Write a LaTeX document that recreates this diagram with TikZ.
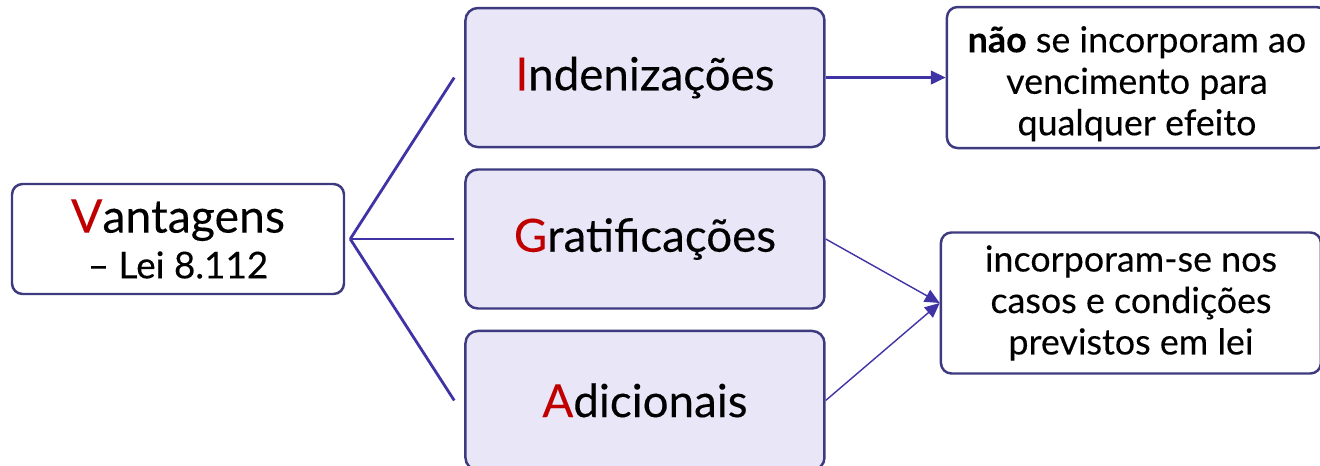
\documentclass[tikz,border=0pt]{standalone}
\usepackage{fontspec}
\setmainfont{Lato}[FakeBold=0.2]
\usetikzlibrary{arrows.meta,positioning}
\definecolor{cLine}{HTML}{4033A6}
\definecolor{cEdge}{HTML}{3D3A80}
\definecolor{cFill}{HTML}{E8E6F7}
\definecolor{cRed}{HTML}{C00000}
\tikzset{
  rootbox/.style={rounded corners=3pt,draw=cEdge,line width=0.7pt,fill=white,
              minimum width=3.32cm,minimum height=1.10cm,inner sep=0pt,align=center},
  catbox/.style={rounded corners=3.5pt,draw=cEdge,line width=0.7pt,fill=cFill,
              minimum width=3.59cm,minimum height=1.39cm,inner sep=0pt,
              font=\fontsize{13}{16}\selectfont},
  notebox/.style={rounded corners=3pt,draw=cEdge,line width=0.7pt,fill=white,
              minimum width=3.80cm,minimum height=1.41cm,inner sep=0pt,align=center,
              font=\fontsize{10.2}{11.8}\selectfont},
  fan/.style={cLine,line width=0.8pt},
  leadarrow/.style={-{Triangle[length=4.2pt,width=3.8pt]},cLine,line width=0.8pt},
  thinarrow/.style={-{Triangle[length=4.2pt,width=3.8pt]},cLine,line width=0.4pt},
}
\newcommand{\ini}[1]{\textcolor{cRed}{#1}}

\begin{document}
\begin{tikzpicture}[node distance=2mm]
  \useasboundingbox (0,0) rectangle (13.2,4.65);
  \node[rootbox] (vant) at (1.78,2.26)
     {{\fontsize{13.2}{16}\selectfont\ini{V}antagens}\\[1pt]
      {\fontsize{10.5}{13}\selectfont -- Lei 8.112}};
  \node[catbox,right=1.19cm of vant] (grat) {\ini{G}ratificações};
  \node[catbox,above=of grat] (ind) {\ini{I}ndenizações};
  \node[catbox,below=of grat] (adic) {\ini{A}dicionais};
  \node[notebox,right=1.2cm of ind] (nao)
     {\rule{0pt}{11pt}\textbf{não} se incorporam ao\\vencimento para\\qualquer efeito};
  \node[notebox,right=1.14cm of grat,yshift=-6.4mm] (prev)
     {incorporam-se nos\\casos e condições\\previstos em lei};
  % ligacoes
  \coordinate[right=0.5mm of vant] (fork);
  \foreach \k in {ind,grat,adic} \draw[fan] (fork) -- ([xshift=-1mm]\k.west);
  \draw[leadarrow] (ind) -- (nao);
  \draw[thinarrow] (grat.east) -- (prev.west);
  \draw[thinarrow] (adic.east) -- (prev.west);
\end{tikzpicture}
\end{document}
